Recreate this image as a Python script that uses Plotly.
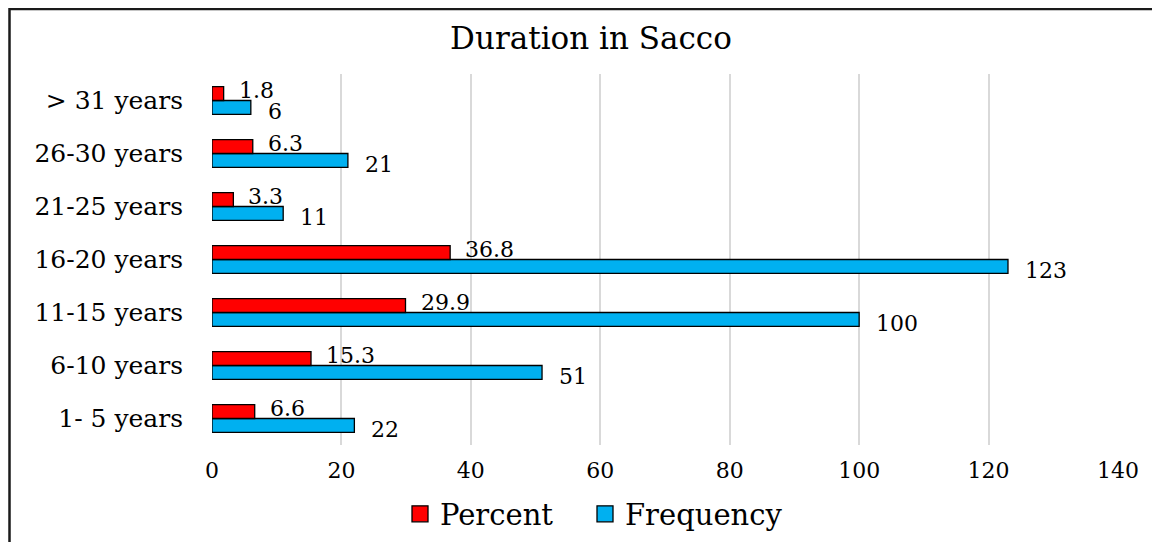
import plotly.graph_objects as go

categories = ["1- 5 years", "6-10 years", "11-15 years", "16-20 years",
              "21-25 years", "26-30 years", "> 31 years"]
percent = [6.6, 15.3, 29.9, 36.8, 3.3, 6.3, 1.8]
frequency = [22, 51, 100, 123, 11, 21, 6]
x_ticks = [0, 20, 40, 60, 80, 100, 120, 140]

FONT = "DejaVu Serif"
RED, BLUE = "#FF0000", "#00B0F0"
OFF = 8  # page body margin
W, H = 1160 - OFF, 542 - OFF
L, R, T, B = 204, 42, 66, 97
pw, ph = W - L - R, H - T - B
BARGAP = 0.48


def px_x(p):
    return (p - OFF - L) / pw


def px_y(p):
    return (H - B - (p - OFF)) / ph


band = ph / len(categories)
bar_half = band * (1 - BARGAP) / 4  # centre offset of each bar in its group

fig = go.Figure()
fig.add_trace(go.Bar(
    y=categories, x=frequency, orientation="h", name="Frequency",
    marker=dict(color=BLUE, line=dict(color="#000000", width=1.3)),
    showlegend=False,
))
fig.add_trace(go.Bar(
    y=categories, x=percent, orientation="h", name="Percent",
    marker=dict(color=RED, line=dict(color="#000000", width=1.3)),
    showlegend=False,
))
# legend entries with larger square symbols, one legend per entry
for name, col, lg in [("Percent", RED, "legend"), ("Frequency", BLUE, "legend2")]:
    fig.add_trace(go.Scatter(
        x=[None], y=[None], mode="markers", name=name, legend=lg,
        marker=dict(symbol="square", size=16, color=col,
                    line=dict(color="#000000", width=1.3)),
    ))

annotations = []
for cat, p, f in zip(categories, percent, frequency):
    annotations.append(dict(x=p, y=cat, xref="x", yref="y", text=str(p),
                            showarrow=False, xanchor="left", yanchor="middle",
                            xshift=13, yshift=bar_half + 3,
                            font=dict(family=FONT, size=22, color="#000000")))
    annotations.append(dict(x=f, y=cat, xref="x", yref="y", text=str(f),
                            showarrow=False, xanchor="left", yanchor="middle",
                            xshift=15, yshift=-bar_half - 4,
                            font=dict(family=FONT, size=22, color="#000000")))

legend_common = dict(orientation="h", xref="container", yref="container",
                     xanchor="left", y=1 - (514 - OFF) / H, yanchor="middle",
                     font=dict(family=FONT, size=29, color="#000000"),
                     itemwidth=30, itemsizing="trace",
                     bgcolor="rgba(0,0,0,0)")

fig.update_layout(
    width=W, height=H,
    margin=dict(l=L, r=R, t=T, b=B, autoexpand=False),
    barmode="group", bargap=BARGAP, bargroupgap=0,
    plot_bgcolor="white", paper_bgcolor="white",
    font=dict(family=FONT, color="#000000"),
    title=dict(text="Duration in Sacco", x=(591 - OFF) / W, xref="container",
               y=1 - (38 - OFF) / H, yref="container", xanchor="center",
               yanchor="middle",
               font=dict(family=FONT, size=31, color="#000000")),
    xaxis=dict(range=[0, 140], tickvals=x_ticks, showgrid=True,
               gridcolor="#D9D9D9", gridwidth=1.5, zeroline=False,
               showline=False, ticks="", ticklabelstandoff=10,
               automargin=False,
               tickfont=dict(family=FONT, size=22, color="#000000")),
    yaxis=dict(showgrid=False, zeroline=False, showline=False, ticks="",
               ticklabelstandoff=28, automargin=False,
               tickfont=dict(family=FONT, size=25, color="#000000")),
    legend=dict(legend_common, x=(400 - OFF) / W),
    legend2=dict(legend_common, x=(585 - OFF) / W),
    showlegend=True,
    annotations=annotations,
    shapes=[dict(type="rect", xref="paper", yref="paper",
                 x0=px_x(9.5), x1=px_x(1175), y0=px_y(570), y1=px_y(9),
                 line=dict(color="#1a1a1a", width=2.5),
                 fillcolor="rgba(0,0,0,0)", layer="below")],
)

fig.write_html("out.html")
